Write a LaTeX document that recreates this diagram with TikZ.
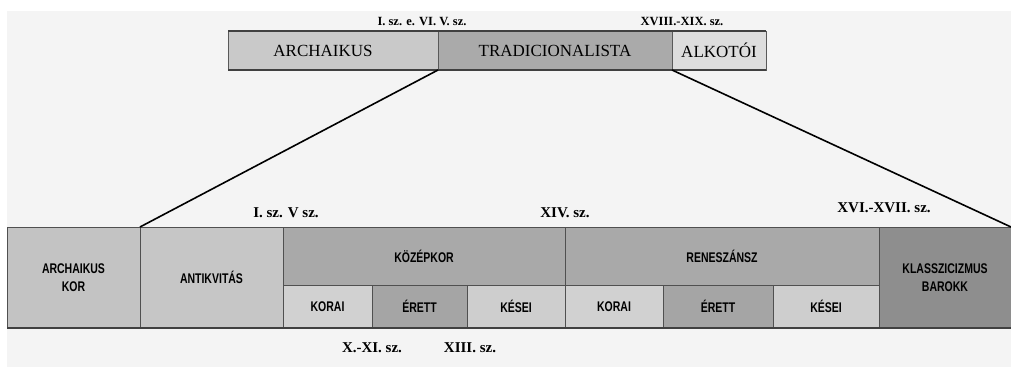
\documentclass[tikz,border=0pt]{standalone}
\usepackage{fontspec}
\setmainfont{Liberation Serif}
\newfontfamily\cellfont{Liberation Sans}[FakeStretch=0.75]
\usetikzlibrary{positioning}

\definecolor{paper}{HTML}{F4F4F4}
\definecolor{topA}{HTML}{C9C9C9}
\definecolor{topT}{HTML}{AAAAAA}
\definecolor{topK}{HTML}{DDDDDD}
\definecolor{korfill}{HTML}{C3C3C3}
\definecolor{antikfill}{HTML}{C6C6C6}
\definecolor{headfill}{HTML}{A9A9A9}
\definecolor{koraifill}{HTML}{D1D1D1}
\definecolor{erettfill}{HTML}{A5A5A5}
\definecolor{keseifill}{HTML}{CECECE}
\definecolor{klasszfill}{HTML}{8E8E8E}
\definecolor{edge}{HTML}{505050}

\tikzstyle{topcell} = [rectangle, draw=gray!70!black, thin, outer sep=0pt,
    inner sep=0pt, minimum height=39pt, font=\fontsize{17}{20}\selectfont]
\tikzstyle{cell} = [rectangle, draw=edge, outer sep=0pt, inner sep=0pt,
    minimum height=101pt, align=center,
    font=\cellfont\bfseries\fontsize{14}{18}\selectfont]
\tikzstyle{headcell} = [cell, minimum height=58pt]
\tikzstyle{subcell} = [cell, minimum height=43pt]
\tikzstyle{date} = [inner sep=0pt, font=\bfseries\fontsize{15}{18}\selectfont]
\tikzstyle{smalldate} = [inner sep=0pt, font=\bfseries\fontsize{12.5}{15}\selectfont]
\tikzstyle{barline} = [draw=gray!50!black, line width=1.8pt]
\tikzstyle{zoomline} = [draw=black, line width=1.6pt]

\begin{document}
\begin{tikzpicture}[x=1pt, y=-1pt]
	\useasboundingbox (0,0) rectangle (1011,367);
	\fill[paper] (7,11) rectangle (1011,367);

	% upper bar
	\node [topcell, fill=topA, minimum width=210pt] (arch) at (333,50.5) {\hspace*{-20pt}ARCHAIKUS};
	\node [topcell, fill=topT, minimum width=234pt, right=0pt of arch] (trad) {TRADICIONALISTA};
	\node [topcell, fill=topK, minimum width=94pt, right=0pt of trad] (alk) {ALKOTÓI};
	\draw[barline] (arch.north west) -- (alk.north east);
	\draw[barline] (arch.south west) -- (alk.south east);

	% lower table
	\node [cell, fill=korfill, minimum width=133pt] (archkor) at (73.5,277.5) {ARCHAIKUS\\KOR};
	\node [cell, fill=antikfill, minimum width=143pt, right=0pt of archkor] (antik) {ANTIKVITÁS};
	\node [headcell, fill=headfill, minimum width=282pt, anchor=north west] (kozep) at (antik.north east) {KÖZÉPKOR};
	\node [subcell, fill=koraifill, minimum width=89pt, anchor=north west] (korai1) at (kozep.south west) {KORAI};
	\node [subcell, fill=erettfill, minimum width=95pt, right=0pt of korai1] (erett1) {ÉRETT};
	\node [subcell, fill=keseifill, minimum width=98pt, right=0pt of erett1] (kesei1) {KÉSEI};
	\node [headcell, fill=headfill, minimum width=314pt, right=0pt of kozep] (renes) {RENESZÁNSZ};
	\node [subcell, fill=koraifill, minimum width=98pt, anchor=north west] (korai2) at (renes.south west) {KORAI};
	\node [subcell, fill=erettfill, minimum width=110pt, right=0pt of korai2] (erett2) {ÉRETT};
	\node [subcell, fill=keseifill, minimum width=106pt, right=0pt of erett2] (kesei2) {KÉSEI};
	\node [cell, fill=klasszfill, minimum width=132pt, anchor=north west] (klassz) at (renes.north east) {KLASSZICIZMUS\\BAROKK};
	\draw[barline] (archkor.south west) -- (klassz.south east);

	% zoom lines
	\draw[zoomline] (trad.south west) -- (antik.north west);
	\draw[zoomline] (trad.south east) -- (klassz.north east);

	% dates
	\node [smalldate, above=5pt of arch.north east, xshift=-16pt] (t1) {I. sz. e. VI. V. sz.};
	\node [smalldate, above=5pt of trad.north east, xshift=10pt] (t2) {XVIII.-XIX. sz.};
	\node [date, above=9pt of antik.north east, xshift=3pt] (d1) {I. sz. V sz.};
	\node [date, above=9pt of kozep.north east] (d2) {XIV. sz.};
	\node [date, above=14pt of renes.north east, xshift=5pt] (d3) {XVI.-XVII. sz.};
	\node [date, below=14pt of korai1.south east] (d4) {X.-XI. sz.};
	\node [date, below=14pt of erett1.south east, xshift=3pt] (d5) {XIII. sz.};
\end{tikzpicture}
\end{document}
